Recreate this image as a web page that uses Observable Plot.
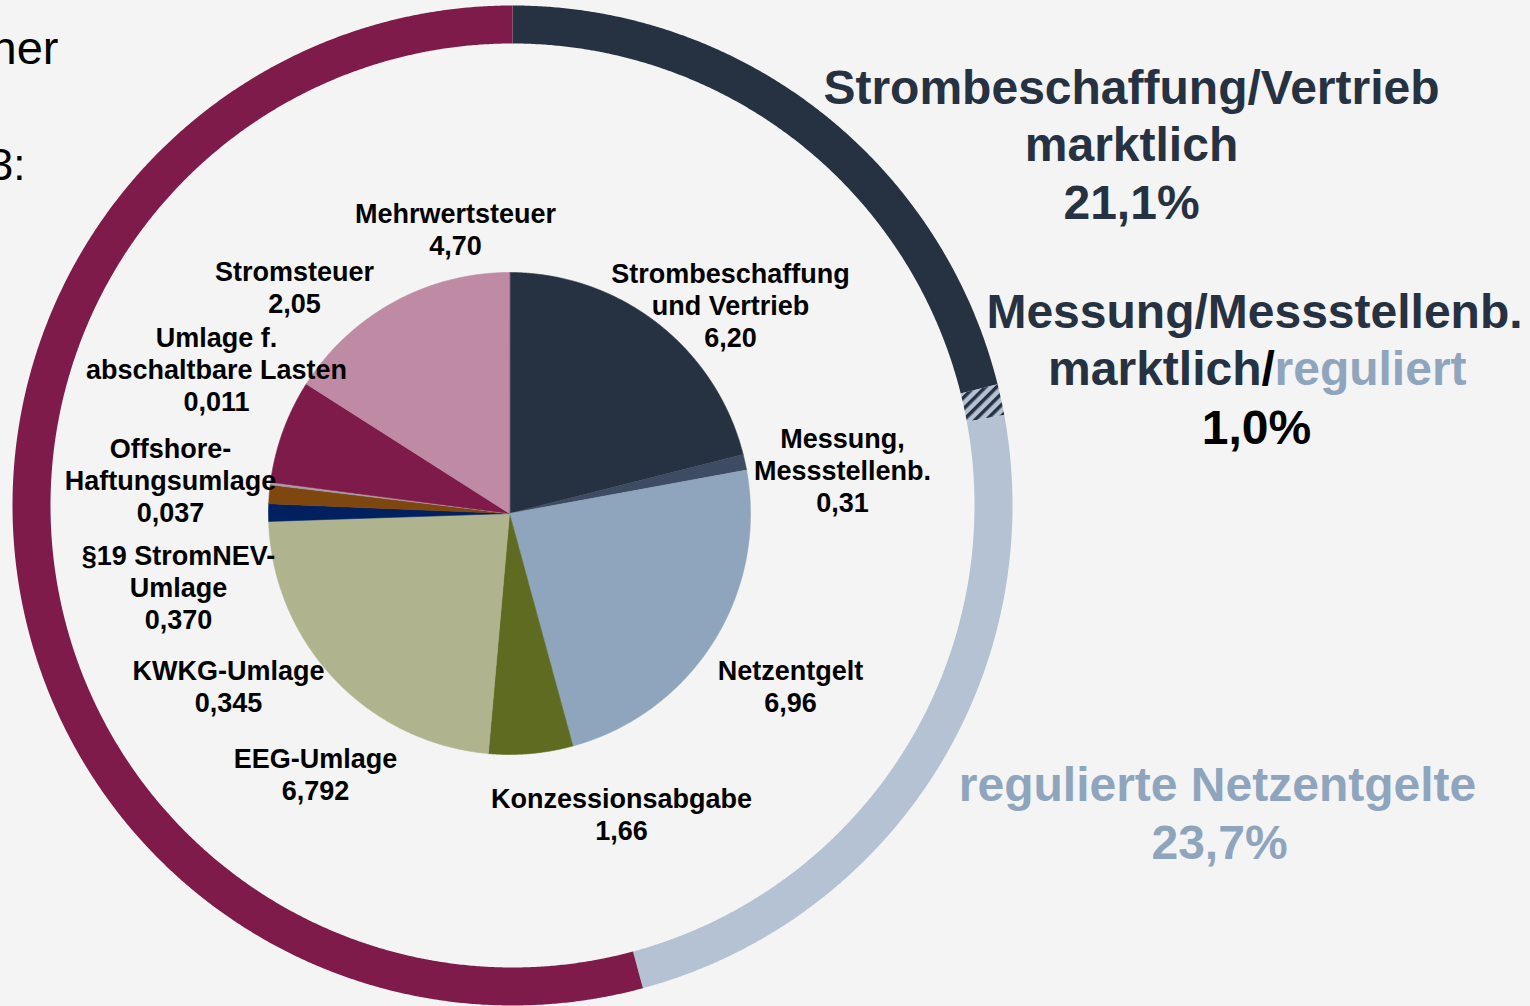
<!DOCTYPE html>
<html><head><meta charset="utf-8">
<script src="https://cdn.jsdelivr.net/npm/d3@7"></script>
<script src="https://cdn.jsdelivr.net/npm/@observablehq/plot@0.6"></script>
<style>
html,body{margin:0;padding:0;background:#f4f4f4;}
</style></head><body><div id="chart"></div>
<script>
// ---- data ----
const categories = ["Strombeschaffung\nund Vertrieb","Messung,\nMessstellenb.","Netzentgelt","Konzessionsabgabe","EEG-Umlage","KWKG-Umlage","§19 StromNEV-\nUmlage","Offshore-\nHaftungsumlage","Umlage f.\nabschaltbare Lasten","Stromsteuer","Mehrwertsteuer"];
const values = [6.20, 0.31, 6.96, 1.66, 6.792, 0.345, 0.370, 0.037, 0.011, 2.05, 4.70];
const valueLabels = ["6,20","0,31","6,96","1,66","6,792","0,345","0,370","0,037","0,011","2,05","4,70"];

const ringCategories = ["Strombeschaffung/Vertrieb marktlich","Messung/Messstellenb. marktlich/reguliert","regulierte Netzentgelte","Steuern, Abgaben, Umlagen"];
const ringShares = [21.1, 1.0, 23.7, 54.2];

// ---- styles / layout ----
const pieColors = ["#263241","#3d4c62","#8fa5bd","#606b22","#b0b48e","#002060","#7f4710","#a89aa8","#c4a9b8","#7f1b4a","#bf8aa3"];
const ringColors = ["#263241","url(#hatch)","#b4c2d4","#7f1b4a"];
const labelX = [730, 842, 790, 621, 315, 228, 178, 170, 216, 294, 455];
const labelY = [304, 469, 685, 813, 773, 685, 586, 479, 368, 286, 228];
const pieGeom = {cx: 509, cy: 513, r: 241};
const ringGeom = {cx: 512, cy: 505, r0: 462, r1: 500};

function arcPoints(a0, a1, r, cx, cy) {
  const n = Math.max(2, Math.ceil((a1 - a0) / (Math.PI / 720)));
  const pts = [];
  for (let k = 0; k <= n; k++) {
    const a = a0 + (a1 - a0) * k / n;
    pts.push([cx + r * Math.sin(a), cy - r * Math.cos(a)]);
  }
  return pts;
}

const pie = d3.pie().sort(null);
const pieArcs = pie(values);
const piePts = [];
pieArcs.forEach((d, i) => {
  piePts.push({key: i, x: pieGeom.cx, y: pieGeom.cy, color: pieColors[i]});
  for (const [x, y] of arcPoints(d.startAngle, d.endAngle, pieGeom.r, pieGeom.cx, pieGeom.cy))
    piePts.push({key: i, x, y, color: pieColors[i]});
});

const ringArcs = pie(ringShares);
const ringPts = [];
ringArcs.forEach((d, i) => {
  const outer = arcPoints(d.startAngle, d.endAngle, ringGeom.r1, ringGeom.cx, ringGeom.cy);
  const inner = arcPoints(d.startAngle, d.endAngle, ringGeom.r0, ringGeom.cx, ringGeom.cy).reverse();
  for (const [x, y] of outer.concat(inner)) ringPts.push({key: i, x, y, color: ringColors[i]});
});

const labels = categories.map((c, i) => ({text: c + "\n" + valueLabels[i], x: labelX[i], y: labelY[i]}));

const FONT = "'Liberation Sans', Arial, sans-serif";
const big = {fontSize: 48, fontWeight: "bold", fontFamily: FONT, textAnchor: "middle"};

const chart = Plot.plot({
  width: 1530, height: 1006, margin: 0,
  x: {domain: [0, 1530], range: [0, 1530], axis: null},
  y: {domain: [0, 1006], range: [0, 1006], axis: null},
  color: {type: "identity"},
  style: {background: "#f4f4f4", fontFamily: FONT, overflow: "hidden"},
  marks: [
    Plot.line(ringPts, {x: "x", y: "y", z: "key", fill: "color", stroke: "none", curve: "linear-closed"}),
    Plot.line(piePts, {x: "x", y: "y", z: "key", fill: "color", stroke: "color", strokeWidth: 0.6, curve: "linear-closed"}),
    Plot.text(labels, {x: "x", y: "y", text: "text", fontSize: 27, fontWeight: "bold", fontFamily: FONT, lineHeight: 1.185, fill: "#000", textAnchor: "middle", lineAnchor: "middle"}),
    // outer ring annotations
    Plot.text(["Strombeschaffung/Vertrieb"], {...big, x: () => 1131, y: () => 88, text: d => d, fill: "#263241"}),
    Plot.text(["marktlich"], {...big, x: () => 1131, y: () => 145, text: d => d, fill: "#263241"}),
    Plot.text([ringShares[0].toFixed(1).replace(".", ",") + "%"], {...big, x: () => 1131, y: () => 203, text: d => d, fill: "#263241"}),
    Plot.text(["Messung/Messstellenb."], {...big, x: () => 1254, y: () => 312, text: d => d, fill: "#263241"}),
    Plot.text(["marktlich"], {...big, textAnchor: "end", x: () => 1261, y: () => 369, text: d => d, fill: "#263241"}),
    Plot.text(["/"], {...big, textAnchor: "start", x: () => 1261, y: () => 369, text: d => d, fill: "#000"}),
    Plot.text(["reguliert"], {...big, textAnchor: "start", x: () => 1274, y: () => 369, text: d => d, fill: "#8fa5bd"}),
    Plot.text([ringShares[1].toFixed(1).replace(".", ",") + "%"], {...big, x: () => 1256, y: () => 428, text: d => d, fill: "#000"}),
    Plot.text(["regulierte Netzentgelte"], {...big, x: () => 1217, y: () => 785, text: d => d, fill: "#8fa5bd"}),
    Plot.text([ringShares[2].toFixed(1).replace(".", ",") + "%"], {...big, x: () => 1219, y: () => 843, text: d => d, fill: "#8fa5bd"}),
    // heading text running off the left edge, as in the reference
    Plot.text(["her"], {x: () => 58, y: () => 48, text: d => d, fontSize: 47, fontFamily: FONT, textAnchor: "end", fill: "#000"}),
    Plot.text(["3:"], {x: () => 25, y: () => 165, text: d => d, fontSize: 44, fontFamily: FONT, textAnchor: "end", fill: "#000"})
  ]
});

chart.insertAdjacentHTML("beforeend",
  '<defs><pattern id="hatch" patternUnits="userSpaceOnUse" width="8" height="8" patternTransform="rotate(45)">' +
  '<rect width="8" height="8" fill="#b4c2d4"/><rect x="0" y="0" width="3.5" height="8" fill="#263241"/></pattern></defs>');
document.getElementById("chart").appendChild(chart);
</script>
</body></html>
